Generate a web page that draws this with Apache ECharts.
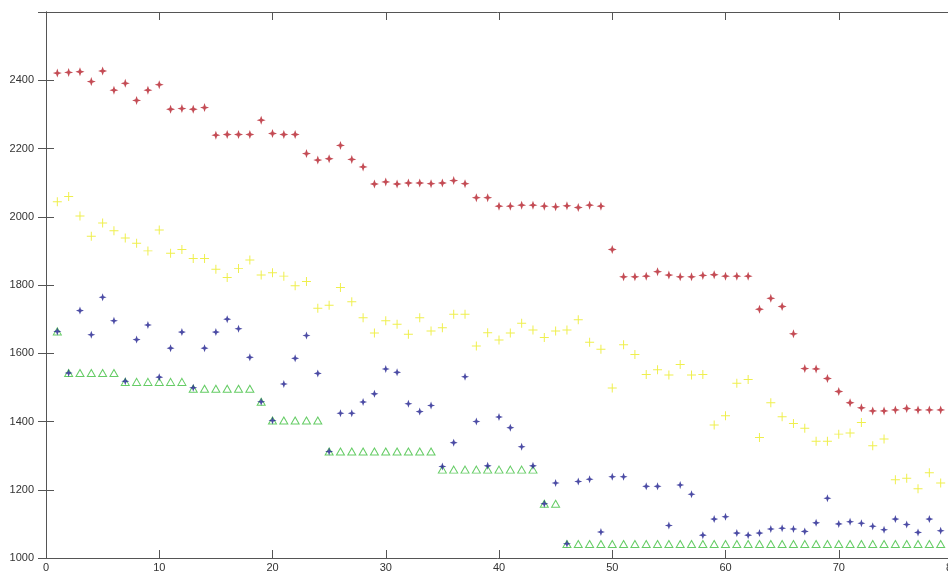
<!DOCTYPE html>
<html>
<head>
<meta charset="utf-8">
<script src="https://cdn.jsdelivr.net/npm/echarts@6/dist/echarts.min.js"></script>
<style>
html,body{margin:0;padding:0;background:#fff;}
#chart{width:948px;height:574px;}
</style>
</head>
<body>
<div id="chart"></div>
<script>
var xValues = [1,2,3,4,5,6,7,8,9,10,11,12,13,14,15,16,17,18,19,20,21,22,23,24,25,26,27,28,29,30,31,32,33,34,35,36,37,38,39,40,41,42,43,44,45,46,47,48,49,50,51,52,53,54,55,56,57,58,59,60,61,62,63,64,65,66,67,68,69,70,71,72,73,74,75,76,77,78,79];

var redValues = [2421,2423,2425,2396,2427,2371,2391,2341,2371,2387,2315,2317,2315,2320,2239,2241,2241,2241,2283,2244,2241,2241,2185,2166,2170,2209,2168,2146,2096,2102,2096,2099,2099,2097,2099,2106,2097,2056,2056,2031,2031,2034,2034,2031,2029,2032,2027,2034,2031,1904,1824,1824,1826,1839,1829,1824,1824,1828,1830,1826,1826,1826,1729,1761,1737,1657,1555,1554,1526,1488,1455,1440,1431,1431,1434,1438,1434,1434,1434];

var yellowValues = [2044,2059,2002,1943,1982,1959,1938,1922,1900,1961,1893,1904,1878,1878,1846,1822,1848,1873,1829,1836,1826,1798,1810,1732,1741,1793,1751,1704,1659,1695,1685,1656,1704,1665,1675,1714,1714,1621,1660,1639,1659,1688,1668,1646,1665,1668,1698,1632,1612,1498,1625,1596,1538,1552,1536,1567,1536,1538,1390,1417,1512,1523,1353,1455,1414,1394,1380,1342,1342,1363,1366,1397,1329,1349,1229,1234,1203,1250,1220];

var blueValues = [1664,1542,1725,1654,1764,1695,1518,1640,1683,1530,1615,1662,1499,1615,1662,1700,1672,1588,1458,1403,1510,1585,1652,1541,1312,1424,1424,1457,1481,1554,1544,1452,1429,1447,1268,1338,1531,1400,1270,1413,1382,1326,1270,1159,1220,1042,1224,1231,1076,1238,1238,null,1210,1210,1095,1214,1187,1067,1114,1121,1073,1067,1073,1085,1087,1085,1078,1103,1175,1100,1106,1102,1093,1083,1114,1098,1075,1114,1080];

var greenValues = [1664,1542,1542,1542,1542,1542,1516,1516,1516,1516,1516,1516,1496,1496,1496,1496,1496,1496,1458,1403,1403,1403,1403,1403,1312,1312,1312,1312,1312,1312,1312,1312,1312,1312,1259,1259,1259,1259,1259,1259,1259,1259,1259,1159,1159,1041,1041,1041,1041,1041,1041,1041,1041,1041,1041,1041,1041,1041,1041,1041,1041,1041,1041,1041,1041,1041,1041,1041,1041,1041,1041,1041,1041,1041,1041,1041,1041,1041,1041];

var xTicks = {min: 0, max: 80, interval: 10};
var yTicks = {min: 1000, max: 2600, interval: 200};

function pairs(vals){
  var out = [];
  for (var i = 0; i < xValues.length; i++) {
    if (vals[i] !== null && vals[i] !== undefined) out.push([xValues[i], vals[i]]);
  }
  return out;
}
function plain(v){ return String(v); }

var starPath = 'path://M0,-10 L2.6,-2.6 L10,0 L2.6,2.6 L0,10 L-2.6,2.6 L-10,0 L-2.6,-2.6 Z';
var plusPath = 'path://M-10,-1.1 L-1.1,-1.1 L-1.1,-10 L1.1,-10 L1.1,-1.1 L10,-1.1 L10,1.1 L1.1,1.1 L1.1,10 L-1.1,10 L-1.1,1.1 L-10,1.1 Z';

var axisLine = {show: true, lineStyle: {color: '#555', width: 1}};
var axisTick = {show: true, inside: true, length: 8, lineStyle: {color: '#555', width: 1}};
var labelStyle = {color: '#333', fontSize: 11, fontFamily: 'Liberation Sans, Arial, sans-serif', formatter: plain};

var chart = echarts.init(document.getElementById('chart'), null, {renderer: 'canvas'});
chart.setOption({
  animation: false,
  backgroundColor: '#fff',
  grid: {left: 46, right: -4, top: 12, bottom: 16, containLabel: false, outerBoundsMode: 'none'},
  xAxis: [
    {type: 'value', position: 'bottom', min: xTicks.min, max: xTicks.max, interval: xTicks.interval,
     axisLine: axisLine, axisTick: axisTick, splitLine: {show: false},
     axisLabel: Object.assign({margin: 4}, labelStyle)},
    {type: 'value', position: 'top', min: xTicks.min, max: xTicks.max, interval: xTicks.interval,
     axisLine: axisLine, axisTick: axisTick, splitLine: {show: false}, axisLabel: {show: false}}
  ],
  yAxis: [
    {type: 'value', position: 'left', min: yTicks.min, max: yTicks.max, interval: yTicks.interval,
     axisLine: axisLine, axisTick: axisTick, splitLine: {show: false},
     axisLabel: Object.assign({margin: 12, showMaxLabel: false}, labelStyle)},
    {type: 'value', position: 'right', min: yTicks.min, max: yTicks.max, interval: yTicks.interval,
     axisLine: axisLine, axisTick: axisTick, splitLine: {show: false}, axisLabel: {show: false}}
  ],
  series: [
    {type: 'scatter', name: 'red', data: pairs(redValues), symbol: starPath, symbolSize: 9,
     itemStyle: {color: '#b51f2a'}},
    {type: 'scatter', name: 'yellow', data: pairs(yellowValues), symbol: plusPath, symbolSize: 9,
     itemStyle: {color: '#eded3a', opacity: 0.9}},
    {type: 'scatter', name: 'green', data: pairs(greenValues), symbol: 'triangle', symbolSize: [8, 7],
     itemStyle: {color: 'rgba(255,255,255,0)', borderColor: '#3fbf3f', borderWidth: 1}},
    {type: 'scatter', name: 'blue', data: pairs(blueValues), symbol: starPath, symbolSize: 8,
     itemStyle: {color: '#1f1f8f'}}
  ]
});
</script>
</body>
</html>
